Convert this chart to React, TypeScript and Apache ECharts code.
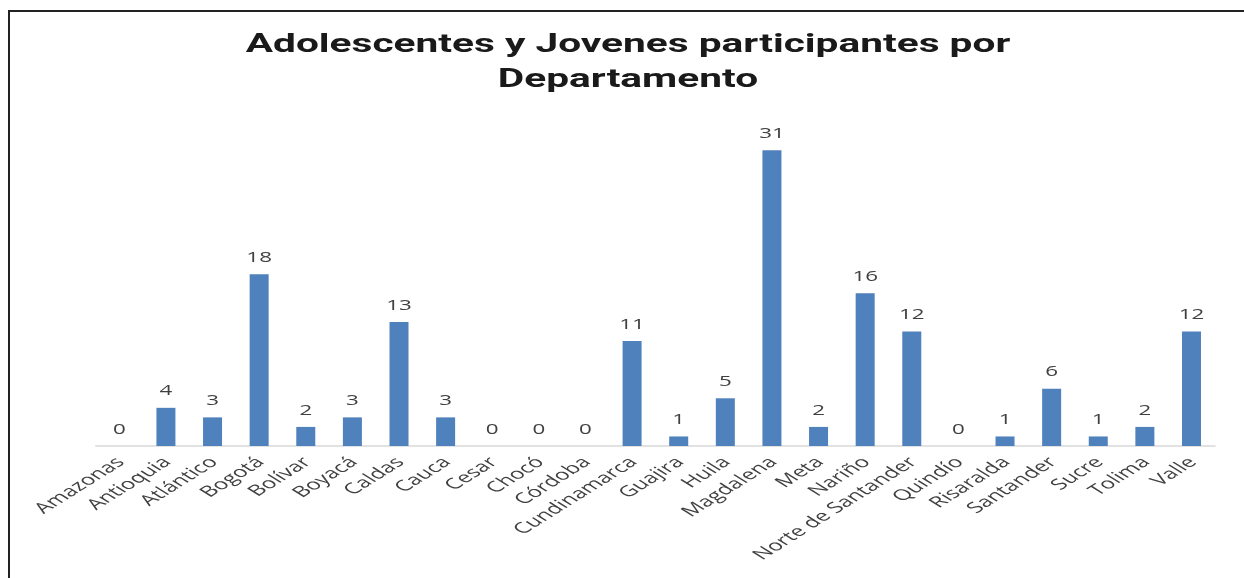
import React, { useEffect, useRef } from "react";
import * as echarts from "echarts";

const categories = [
  "Amazonas", "Antioquia", "Atlántico", "Bogotá", "Bolívar", "Boyacá", "Caldas", "Cauca",
  "Cesar", "Chocó", "Córdoba", "Cundinamarca", "Guajira", "Huila", "Magdalena", "Meta",
  "Nariño", "Norte de Santander", "Quindío", "Risaralda", "Santander", "Sucre", "Tolima", "Valle",
];
const values = [0, 4, 3, 18, 2, 3, 13, 3, 0, 0, 0, 11, 1, 5, 31, 2, 16, 12, 0, 1, 6, 1, 2, 12];
const titleLines = ["Adolescentes y Jovenes participantes por", "Departamento"];

// The reference picture is stretched horizontally; the chart is drawn narrower and scaled.
const STRETCH = 1.6;
const PAGE_W = 1244;
const PAGE_H = 578;

export default function App() {
  const ref = useRef<HTMLDivElement>(null);
  useEffect(() => {
    if (!ref.current) return;
    const chart = echarts.init(ref.current, undefined, { renderer: "svg" });
    const W = PAGE_W / STRETCH;
    chart.setOption({
      animation: false,
      backgroundColor: "transparent",
      title: {
        text: titleLines.join("\n"),
        left: 620 / STRETCH,
        textAlign: "center",
        top: 21,
        textStyle: {
          fontFamily: "Roboto",
          fontWeight: "bold",
          fontSize: 25.4,
          lineHeight: 35,
          color: "#1a1a1a",
        },
      },
      grid: {
        left: 96 / STRETCH,
        right: W - 1214 / STRETCH,
        top: 112,
        bottom: PAGE_H - 446,
        containLabel: false,
      },
      xAxis: {
        type: "category",
        data: categories,
        axisLine: { lineStyle: { color: "#d9d9d9", width: 1.5 } },
        axisTick: { show: false },
        axisLabel: {
          rotate: 45,
          interval: 0,
          margin: 13,
          fontFamily: "Open Sans",
          fontSize: 15,
          color: "#404040",
        },
      },
      yAxis: {
        type: "value",
        min: 0,
        max: 35,
        show: false,
        splitLine: { show: false },
      },
      series: [
        {
          type: "bar",
          data: values,
          barWidth: 19 / STRETCH,
          itemStyle: { color: "#4f81bd" },
          label: {
            show: true,
            position: "top",
            distance: 11,
            fontFamily: "Open Sans",
            fontSize: 14,
            color: "#404040",
          },
        },
      ],
    });
    return () => chart.dispose();
  }, []);
  return (
    <div>
      <div
        style={{
          position: "fixed",
          left: 8,
          top: 10,
          width: 1236,
          height: 568,
          borderLeft: "2px solid #222",
          borderTop: "2px solid #222",
          boxSizing: "border-box",
        }}
      />
      <div
        ref={ref}
        style={{
          position: "fixed",
          left: 0,
          top: 0,
          width: PAGE_W / STRETCH,
          height: PAGE_H,
          transform: `scaleX(${STRETCH})`,
          transformOrigin: "0 0",
        }}
      />
    </div>
  );
}
